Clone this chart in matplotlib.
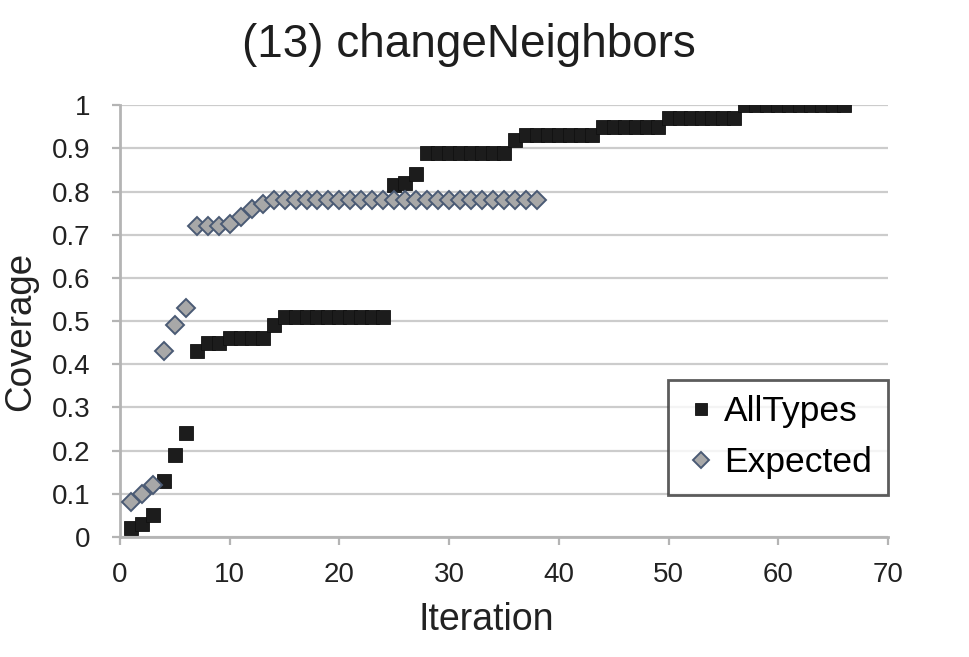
import matplotlib.pyplot as plt

plt.rcParams['font.family'] = ['Liberation Sans', 'DejaVu Sans']

# AllTypes series (iteration, coverage)
all_x = list(range(1, 67))
all_y = [0.02, 0.03, 0.05, 0.13, 0.19, 0.24,
         0.43, 0.45, 0.45, 0.46, 0.46, 0.46, 0.46, 0.49,
         0.51, 0.51, 0.51, 0.51, 0.51, 0.51, 0.51, 0.51, 0.51, 0.51,
         0.815, 0.82, 0.84,
         0.89, 0.89, 0.89, 0.89, 0.89, 0.89, 0.89, 0.89,
         0.92, 0.93, 0.93, 0.93, 0.93, 0.93, 0.93, 0.93,
         0.95, 0.95, 0.95, 0.95, 0.95, 0.95,
         0.97, 0.97, 0.97, 0.97, 0.97, 0.97, 0.97,
         1.0, 1.0, 1.0, 1.0, 1.0, 1.0, 1.0, 1.0, 1.0, 1.0]

# Expected series
exp_x = list(range(1, 39))
exp_y = [0.08, 0.10, 0.12, 0.43, 0.49, 0.53,
         0.72, 0.72, 0.72, 0.725, 0.74, 0.76, 0.77] + [0.78] * 25

fig = plt.figure(figsize=(9.7, 6.57), dpi=100)
ax = fig.add_axes([0.1237, 0.1826, 0.7918, 0.6574])

ax.plot(all_x, all_y, linestyle='none', marker='s', markersize=9.5,
        color='#1c1c1c', markeredgecolor='#111111', markeredgewidth=0.6,
        label='AllTypes', zorder=3)
ax.plot(exp_x, exp_y, linestyle='none', marker='D', markersize=9.5,
        markerfacecolor='#a8a8a8', markeredgecolor='#4a5a74', markeredgewidth=1.4,
        label='Expected', zorder=3)

ax.set_xlim(0, 70)
ax.set_ylim(0, 1)
ax.set_xticks(range(0, 71, 10))
ax.set_yticks([i / 10 for i in range(11)])
ax.set_yticklabels(['0', '0.1', '0.2', '0.3', '0.4', '0.5', '0.6', '0.7', '0.8', '0.9', '1'])

# light horizontal gridlines, Excel style
ax.yaxis.grid(True, color='#cccccc', linewidth=1.6)
ax.set_axisbelow(True)
for s in ['top', 'right']:
    ax.spines[s].set_visible(False)
for s in ['left', 'bottom']:
    ax.spines[s].set_color('#b4b4b4')
    ax.spines[s].set_linewidth(2)
ax.tick_params(axis='both', colors='#b4b4b4', labelcolor='#222222',
               labelsize=20, length=6, width=1.6)
ax.tick_params(axis='y', pad=15)
ax.tick_params(axis='x', pad=12)

fig.text(0.501, 0.041, 'Iteration', fontsize=27, color='#222222',
         ha='center', va='baseline')
fig.text(0.021, 0.495, 'Coverage', fontsize=26.5, color='#222222',
         rotation=90, ha='center', va='center')
fig.text(0.4835, 0.913, '(13) changeNeighbors', fontsize=33, color='#1e1e1e',
         ha='center', va='baseline')

leg = ax.legend(loc='lower right', bbox_to_anchor=(1.0, 0.097), fontsize=25.5,
                frameon=True, fancybox=False, handletextpad=0.18,
                handlelength=0.95, borderpad=0.45, labelspacing=0.5,
                borderaxespad=0, markerscale=0.85)
leg.get_frame().set_edgecolor('#333333')
leg.get_frame().set_linewidth(2)

fig.savefig('out.png', dpi=100)
